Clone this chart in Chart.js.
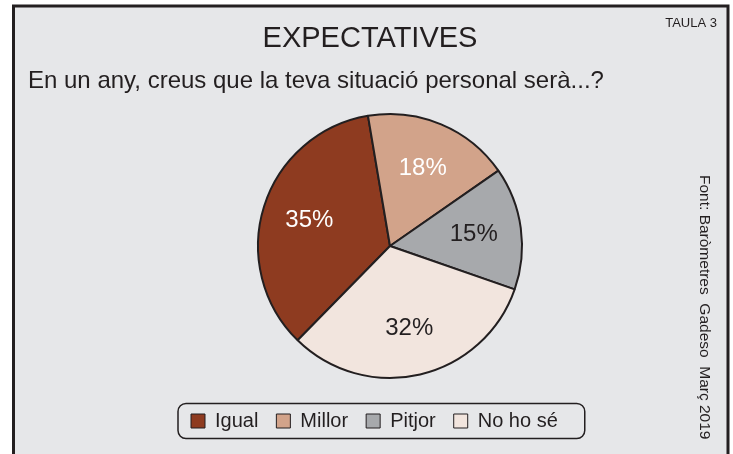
<!DOCTYPE html>
<html>
<head>
<meta charset="utf-8">
<script src="https://cdn.jsdelivr.net/npm/chart.js@4.4.0/dist/chart.umd.min.js"></script>
<style>
    body { margin: 0; background: #fff; }
    canvas { display: block; }
</style>
</head>
<body>
<canvas id="chart" width="733" height="454"></canvas>
<script>
const labels = ['Igual', 'Millor', 'Pitjor', 'No ho sé'];
const values = [35, 18, 15, 32];
const sliceColors = ['#8e3b20', '#d2a38a', '#a7a9ac', '#f2e5de'];
const labelColors = ['#ffffff', '#ffffff', '#231f20', '#231f20'];
const titleText = 'EXPECTATIVES';
const questionText = 'En un any, creus que la teva situació personal serà...?';
const tableText = 'TAULA 3';
const sourceText = 'Font: Baròmetres  Gadeso  Març 2019';

const ink = '#231f20';
const fontFamily = "'Liberation Sans', Arial, sans-serif";
Chart.defaults.font.family = fontFamily;

// gray panel with its dark frame, drawn under everything
const framePlugin = {
    id: 'frame',
    beforeDraw(chart) {
        const ctx = chart.ctx;
        ctx.save();
        ctx.fillStyle = '#ffffff';
        ctx.fillRect(0, 0, chart.width, chart.height);
        ctx.fillStyle = '#e6e7e9';
        ctx.fillRect(13, 6, 715, chart.height);
        ctx.strokeStyle = ink;
        ctx.lineWidth = 3;
        ctx.beginPath();
        ctx.moveTo(13.5, chart.height + 5);
        ctx.lineTo(13.5, 6);
        ctx.lineTo(728, 6);
        ctx.lineTo(728, chart.height + 5);
        ctx.stroke();
        ctx.restore();
    }
};

// headings, table number and the vertical source note
const textPlugin = {
    id: 'texts',
    afterDraw(chart) {
        const ctx = chart.ctx;
        ctx.save();
        ctx.fillStyle = ink;
        ctx.textBaseline = 'alphabetic';
        ctx.textAlign = 'center';
        ctx.font = '29px ' + fontFamily;
        ctx.fillText(titleText, 370, 47);
        ctx.textAlign = 'left';
        ctx.font = '24px ' + fontFamily;
        ctx.fillText(questionText, 28, 88);
        ctx.textAlign = 'right';
        ctx.font = '13px ' + fontFamily;
        ctx.fillText(tableText, 717, 27);
        ctx.translate(700, 175);
        ctx.rotate(Math.PI / 2);
        ctx.textAlign = 'left';
        ctx.font = '15.5px ' + fontFamily;
        ctx.fillText(sourceText, 0, 0);
        ctx.restore();

        // rounded box round the legend
        const boxes = chart.legend.legendHitBoxes;
        if (boxes && boxes.length) {
            const first = boxes[0];
            const last = boxes[boxes.length - 1];
            const x0 = first.left - 13;
            const x1 = last.left + last.width + 27;
            const yc = first.top + first.height / 2;
            ctx.save();
            ctx.strokeStyle = ink;
            ctx.lineWidth = 1.5;
            ctx.beginPath();
            ctx.roundRect(x0, yc - 17.5, x1 - x0, 35, 8);
            ctx.stroke();
            ctx.restore();
        }
    }
};

// percentage inside each slice
const sliceLabels = {
    id: 'sliceLabels',
    afterDatasetsDraw(chart) {
        const ctx = chart.ctx;
        const meta = chart.getDatasetMeta(0);
        ctx.save();
        ctx.font = '24px ' + fontFamily;
        ctx.textAlign = 'center';
        ctx.textBaseline = 'middle';
        meta.data.forEach((arc, i) => {
            const { x, y, startAngle, endAngle, outerRadius } = arc.getProps(['x', 'y', 'startAngle', 'endAngle', 'outerRadius'], true);
            const mid = (startAngle + endAngle) / 2;
            const r = outerRadius * 0.64;
            ctx.fillStyle = labelColors[i];
            ctx.fillText(values[i] + '%', x + Math.cos(mid) * r, y + Math.sin(mid) * r);
        });
        ctx.restore();
    }
};

const ctx = document.getElementById('chart').getContext('2d');
new Chart(ctx, {
    type: 'pie',
    data: {
        labels: labels,
        datasets: [{
            data: values,
            backgroundColor: sliceColors,
            borderColor: ink,
            borderWidth: 2,
            radius: 132
        }]
    },
    plugins: [framePlugin, sliceLabels, textPlugin],
    options: {
        responsive: false,
        animation: false,
        rotation: -135.6,
        layout: {
            padding: { left: 173, right: 126, top: 99, bottom: 13 }
        },
        plugins: {
            tooltip: { enabled: false },
            legend: {
                position: 'bottom',
                align: 'start',
                labels: {
                    color: ink,
                    boxWidth: 14,
                    boxHeight: 14,
                    padding: 18,
                    font: { size: 20 },
                    generateLabels(chart) {
                        return labels.map((label, i) => ({
                            text: label,
                            fillStyle: sliceColors[i],
                            strokeStyle: ink,
                            lineWidth: 1,
                            fontColor: ink,
                            index: i
                        }));
                    }
                }
            }
        }
    }
});
</script>
</body>
</html>
